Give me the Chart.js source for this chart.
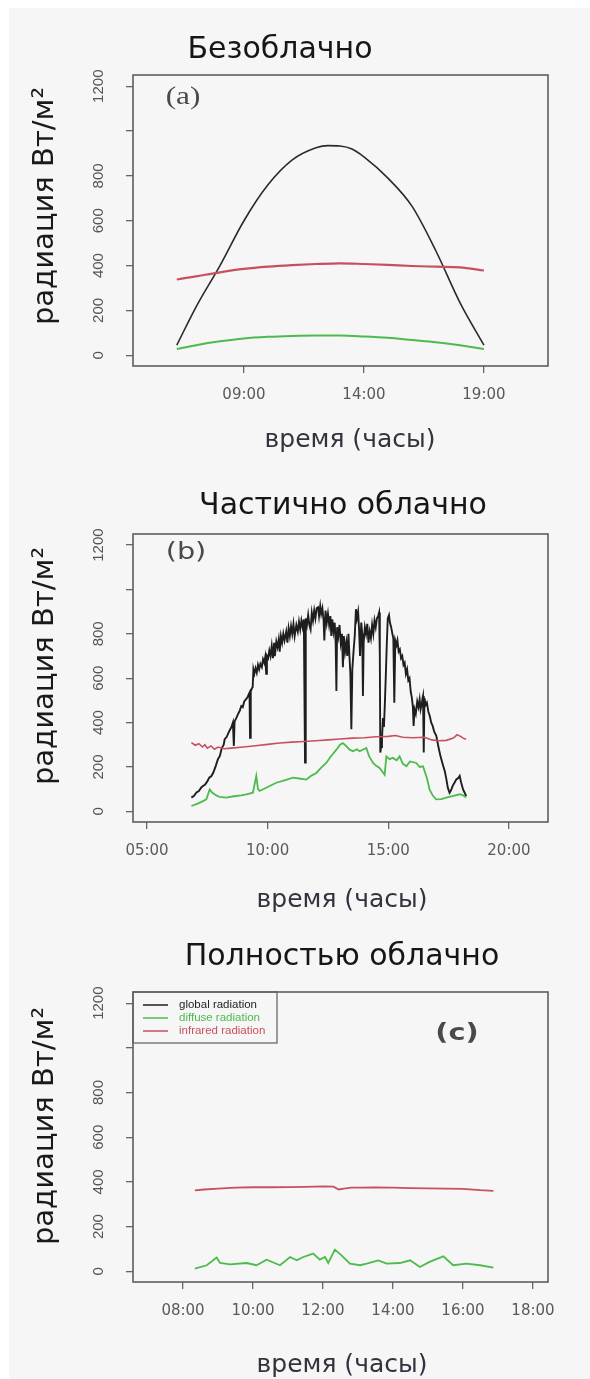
<!DOCTYPE html>
<html><head><meta charset="utf-8">
<script src="https://cdn.jsdelivr.net/npm/chart.js@4.4.1/dist/chart.umd.min.js"></script>
<style>
html,body{margin:0;padding:0;background:#fff;width:590px;height:1379px;overflow:hidden}
#bg{position:absolute;left:9px;top:8px;width:581px;height:1371px;background:#f6f6f6}
canvas{position:absolute;left:0}
</style></head><body>
<div id="bg"></div>
<canvas id="ca" width="590" height="460" style="top:0px"></canvas>
<canvas id="cb" width="590" height="460" style="top:460px"></canvas>
<canvas id="cc" width="590" height="459" style="top:920px"></canvas>
<script>
// ---------- DATA ----------
const panelTitles = ['Безоблачно', 'Частично облачно', 'Полностью облачно'];
const panelLetters = ['(a)', '(b)', '(c)'];
const yAxisTitle = 'радиация Вт/м²';
const xAxisTitle = 'время (часы)';
const seriesNames = ['global radiation', 'diffuse radiation', 'infrared radiation'];

const yTicks = [0, 200, 400, 600, 800, 1000, 1200];
const yTickLabels = ['0', '200', '400', '600', '800', '', '1200'];
const xTicksA = [9, 14, 19];
const xTicksB = [5, 10, 15, 20];
const xTicksC = [8, 10, 12, 14, 16, 18];

// (a) clear sky
const clearGlobalT = [6.2, 7, 8, 9, 10, 11, 12, 12.5, 13, 13.5, 14, 15, 16, 17, 18, 19];
const clearGlobalV = [45, 215, 400, 600, 760, 870, 925, 935, 933, 920, 885, 790, 665, 465, 235, 45];
const clearDiffuseT = [6.2, 7, 8, 9, 10, 11, 12, 13, 14, 15, 16, 17, 18, 19];
const clearDiffuseV = [28, 45, 62, 75, 82, 86, 88, 88, 84, 78, 68, 58, 45, 28];
const clearInfraT = [6.2, 7, 8, 9, 10, 11, 12, 13, 14, 15, 16, 17, 18, 19];
const clearInfraV = [338, 352, 370, 385, 395, 402, 407, 410, 407, 403, 398, 395, 392, 378];

// (b) partly cloudy — global radiation as [hour, W/m²]
const partlyGlobal = [
  [6.84,62],[6.95,70],[7.05,85],[7.15,92],[7.25,108],[7.32,114],[7.4,120],[7.5,135],[7.58,152],[7.67,159],
  [7.75,175],[7.85,205],[7.94,235],[8.02,250],[8.1,285],[8.18,300],[8.22,325],[8.3,335],[8.38,355],[8.45,370],
  [8.5,380],[8.56,400],[8.6,295],[8.63,405],[8.7,420],[8.78,440],[8.85,455],[8.91,475],[8.97,470],[9.03,495],
  [9.1,505],[9.17,515],[9.22,528],[9.25,535],[9.27,332],[9.3,540],[9.35,555],[9.38,560],[9.41,640],[9.45,620],
  [9.5,645],[9.55,625],[9.6,660],[9.65,640],[9.7,665],[9.76,650],[9.81,686],[9.86,670],[9.9,695],[9.94,620],
  [9.97,700],[10.02,690],[10.07,725],[10.12,700],[10.17,745],[10.22,690],[10.27,760],[10.3,700],[10.36,765],[10.41,740],
  [10.46,775],[10.5,720],[10.55,790],[10.6,760],[10.65,800],[10.7,770],[10.77,810],[10.82,760],[10.87,825],[10.92,790],
  [10.97,835],[11.02,800],[11.07,845],[11.12,790],[11.19,840],[11.25,810],[11.3,855],[11.35,820],[11.4,860],[11.45,830],
  [11.5,865],[11.55,220],[11.58,870],[11.63,840],[11.68,885],[11.73,840],[11.78,820],[11.83,895],[11.88,860],[11.93,905],
  [11.98,870],[12.03,915],[12.09,920],[12.13,880],[12.18,925],[12.22,890],[12.27,915],[12.32,860],[12.35,770],[12.4,905],
  [12.45,850],[12.5,890],[12.55,840],[12.6,880],[12.64,790],[12.68,865],[12.73,810],[12.78,850],[12.82,760],[12.85,543],
  [12.88,830],[12.93,790],[12.98,840],[13.03,760],[13.08,800],[13.12,650],[13.16,790],[13.21,720],[13.26,760],[13.3,700],
  [13.35,800],[13.39,700],[13.43,620],[13.47,370],[13.51,640],[13.56,720],[13.61,790],[13.66,911],[13.7,870],[13.75,900],
  [13.79,820],[13.83,700],[13.88,851],[13.92,800],[13.95,520],[13.98,760],[14.03,830],[14.08,800],[14.13,845],[14.18,760],
  [14.23,810],[14.28,780],[14.33,840],[14.38,800],[14.43,860],[14.48,830],[14.53,870],[14.58,880],[14.62,896],[14.65,700],
  [14.67,265],[14.7,290],[14.74,330],[14.78,420],[14.82,380],[14.86,490],[14.9,620],[14.94,760],[14.98,870],[15.03,885],
  [15.07,850],[15.12,830],[15.17,800],[15.21,780],[15.25,490],[15.29,770],[15.34,750],[15.38,770],[15.43,720],[15.48,730],
  [15.53,690],[15.58,700],[15.63,660],[15.68,670],[15.73,620],[15.78,640],[15.83,590],[15.88,600],[15.93,540],[15.98,510],
  [16.02,470],[16.05,385],[16.09,460],[16.14,440],[16.2,495],[16.25,470],[16.3,505],[16.34,460],[16.38,480],[16.42,510],
  [16.44,520],[16.47,265],[16.5,510],[16.55,480],[16.6,490],[16.66,450],[16.72,430],[16.78,400],[16.84,385],[16.9,360],
  [16.99,340],[17.08,290],[17.16,250],[17.25,215],[17.34,182],[17.4,150],[17.47,105],[17.54,84],[17.6,95],[17.67,115],
  [17.75,130],[17.82,144],[17.9,150],[17.96,160],[18.02,130],[18.1,99],[18.16,85],[18.23,69]
];
const partlyDiffuseT = [6.84, 7.1, 7.3, 7.46, 7.6, 7.7, 7.87, 8.0, 8.29, 8.6, 8.9, 9.12, 9.39, 9.53, 9.6, 9.67, 10.0, 10.36, 10.7, 11.05, 11.3, 11.6, 11.8, 12.02, 12.2, 12.43, 12.6, 12.85, 13.0, 13.12, 13.25, 13.4, 13.54, 13.7, 13.81, 14.09, 14.2, 14.37, 14.5, 14.64, 14.85, 14.92, 15.05, 15.19, 15.35, 15.47, 15.6, 15.75, 15.9, 16.16, 16.3, 16.44, 16.6, 16.71, 16.85, 16.99, 17.2, 17.4, 17.7, 17.96, 18.1, 18.23];
const partlyDiffuseV = [24, 35, 45, 54, 99, 85, 72, 65, 62, 68, 72, 77, 84, 160, 100, 92, 110, 129, 140, 152, 148, 143, 160, 173, 195, 218, 245, 278, 300, 308, 295, 278, 271, 280, 271, 286, 250, 218, 205, 196, 165, 248, 235, 241, 230, 248, 215, 203, 225, 218, 200, 203, 150, 99, 70, 54, 55, 62, 70, 77, 72, 62];
const partlyInfraT = [6.84, 7.0, 7.15, 7.3, 7.4, 7.5, 7.65, 7.8, 7.95, 8.2, 8.5, 9, 9.5, 10, 10.5, 11, 11.5, 12, 12.5, 13, 13.5, 14, 14.5, 15, 15.3, 15.6, 16, 16.5, 16.8, 17.1, 17.4, 17.7, 17.85, 18.0, 18.1, 18.23];
const partlyInfraV = [310, 298, 305, 290, 300, 285, 295, 280, 290, 282, 285, 290, 296, 302, 308, 312, 315, 318, 322, 326, 330, 332, 336, 338, 342, 334, 332, 334, 322, 318, 320, 330, 345, 338, 330, 325];

// (c) overcast
const fullDiffuseT = [8.34, 8.68, 8.96, 9.06, 9.34, 9.82, 10.1, 10.39, 10.77, 11.06, 11.25, 11.44, 11.72, 11.91, 12.06, 12.15, 12.34, 12.53, 12.77, 13.06, 13.25, 13.58, 13.82, 14.2, 14.49, 14.77, 15.06, 15.44, 15.72, 16.1, 16.49, 16.87];
const fullDiffuseV = [12, 27, 61, 37, 31, 37, 27, 52, 27, 64, 49, 64, 79, 52, 64, 37, 97, 71, 34, 27, 34, 49, 34, 37, 49, 19, 43, 67, 27, 34, 27, 16];
const fullInfraT = [8.34, 8.6, 9.0, 9.5, 10, 10.5, 11, 11.5, 12, 12.3, 12.45, 12.6, 12.8, 13, 13.5, 14, 14.5, 15, 15.5, 16, 16.5, 16.87];
const fullInfraV = [362, 366, 370, 374, 376, 376, 377, 378, 380, 379, 366, 370, 374, 374, 375, 374, 372, 371, 370, 369, 363, 360];

// ---------- STYLE ----------
const C_GLOBAL = '#1e1e1e', C_DIFF = '#4cbb4c', C_INFRA = '#c8505c';
const pts = (t, v) => t.map((x, i) => ({x: x, y: v[i]}));
const pairPts = p => p.map(d => ({x: d[0], y: d[1]}));
const hh = v => (v < 10 ? '0' : '') + v + ':00';

const decor = {
  id: 'decor',
  afterDraw(chart, args, o) {
    const ctx = chart.ctx, ca = chart.chartArea, ys = chart.scales.y;
    ctx.save();
    ctx.strokeStyle = '#5e5e5e'; ctx.lineWidth = 1.6;
    ctx.strokeRect(ca.left, ca.top, ca.right - ca.left, ca.bottom - ca.top);
    ctx.fillStyle = '#555'; ctx.font = '15px "Liberation Sans"';
    ctx.textAlign = 'center'; ctx.textBaseline = 'middle';
    yTicks.forEach((v, i) => {
      const lab = yTickLabels[i]; if (!lab) return;
      ctx.save(); ctx.translate(99, ys.getPixelForValue(v)); ctx.rotate(-Math.PI / 2);
      ctx.fillText(lab, 0, 0); ctx.restore();
    });
    ctx.fillStyle = '#161616'; ctx.font = '30px "DejaVu Sans"';
    ctx.fillText(o.title, o.titleX, o.titleY);
    ctx.save(); ctx.translate(45, 206); ctx.rotate(-Math.PI / 2);
    ctx.fillStyle = '#1a1a1a'; ctx.font = '29px "DejaVu Sans"';
    ctx.fillText(yAxisTitle, 0, 0); ctx.restore();
    ctx.fillStyle = '#33333f'; ctx.font = '25px "DejaVu Sans"';
    ctx.fillText(xAxisTitle, o.xtX, o.xtY);
    ctx.save(); ctx.translate(o.letX, o.letY); ctx.scale(1.25, 1);
    ctx.fillStyle = '#4a4a4a'; ctx.font = o.letFont;
    ctx.fillText(o.letter, 0, 0); ctx.restore();
    if (o.legend) {
      const lx = ca.left, ly = ca.top, lw = 144, lh = 51;
      ctx.strokeStyle = '#5e5e5e'; ctx.lineWidth = 1.2; ctx.strokeRect(lx, ly, lw, lh);
      const cols = [C_GLOBAL, C_DIFF, C_INFRA];
      ctx.font = '11.5px "Liberation Sans"'; ctx.textAlign = 'left';
      seriesNames.forEach((n, i) => {
        const yy = ly + 13 + i * 13;
        ctx.strokeStyle = cols[i]; ctx.lineWidth = 1.5;
        ctx.beginPath(); ctx.moveTo(lx + 10, yy); ctx.lineTo(lx + 35, yy); ctx.stroke();
        ctx.fillStyle = cols[i]; ctx.fillText(n, lx + 46, yy);
      });
    }
    ctx.restore();
  }
};

function makeChart(id, H, top, bottom, xmin, xmax, xticks, datasets, deco, smooth) {
  return new Chart(document.getElementById(id), {
    type: 'line',
    data: {datasets: datasets},
    plugins: [decor],
    options: {
      responsive: false, animation: false, devicePixelRatio: 1,
      layout: {padding: {left: 0, right: 42, top: top, bottom: 0}},
      elements: {point: {radius: 0}, line: {tension: 0, cubicInterpolationMode: smooth ? 'monotone' : 'default'}},
      plugins: {legend: {display: false}, tooltip: {enabled: false}, title: {display: false}, decor: deco},
      scales: {
        x: {
          type: 'linear', min: xmin, max: xmax,
          afterBuildTicks: s => { s.ticks = xticks.map(v => ({value: v})); },
          afterFit: s => { s.height = H - bottom; s.paddingLeft = 0; s.paddingRight = 0; },
          grid: {drawOnChartArea: false, drawTicks: true, tickLength: 7, color: '#666', tickColor: '#666', lineWidth: 1.3},
          border: {display: false},
          ticks: {autoSkip: false, maxRotation: 0, minRotation: 0, padding: 13, color: '#5a5a5a',
                  font: {family: 'DejaVu Sans', size: 15}, callback: v => hh(v)}
        },
        y: {
          type: 'linear', min: -48, max: 1250,
          afterBuildTicks: s => { s.ticks = yTicks.map(v => ({value: v})); },
          afterFit: s => { s.width = 133; s.paddingTop = 0; s.paddingBottom = 0; },
          grid: {drawOnChartArea: false, drawTicks: true, tickLength: 7, color: '#666', tickColor: '#666', lineWidth: 1.3},
          border: {display: false},
          ticks: {display: false}
        }
      }
    }
  });
}

function ds(data, c, w) {
  return {data: data, borderColor: c, borderWidth: w, pointRadius: 0, fill: false};
}

makeChart('ca', 460, 75, 366, 4.375, 21.67, xTicksA, [
  ds(pts(clearInfraT, clearInfraV), C_INFRA, 2.2),
  ds(pts(clearDiffuseT, clearDiffuseV), C_DIFF, 2),
  ds(pts(clearGlobalT, clearGlobalV), '#2a2a2a', 1.6)
], {title: panelTitles[0], titleX: 280, titleY: 50, xtX: 350, xtY: 440,
    letter: panelLetters[0], letX: 183, letY: 97, letFont: '25px "Liberation Serif"'}, true);

makeChart('cb', 460, 74, 362, 4.42, 21.62, xTicksB, [
  ds(pts(partlyInfraT, partlyInfraV), C_INFRA, 1.6),
  ds(pts(partlyDiffuseT, partlyDiffuseV), C_DIFF, 1.8),
  ds(pairPts(partlyGlobal), C_GLOBAL, 1.9)
], {title: panelTitles[1], titleX: 343, titleY: 46, xtX: 342, xtY: 440,
    letter: panelLetters[1], letX: 186, letY: 93, letFont: '23px "DejaVu Sans"'}, false);

makeChart('cc', 459, 72, 362, 6.571, 18.43, xTicksC, [
  ds(pts(fullInfraT, fullInfraV), C_INFRA, 1.8),
  ds(pts(fullDiffuseT, fullDiffuseV), C_DIFF, 1.8)
], {title: panelTitles[2], titleX: 342, titleY: 37, xtX: 342, xtY: 445,
    letter: panelLetters[2], letX: 457, letY: 114, letFont: 'bold 23px "DejaVu Sans"', legend: true}, false);
</script>
</body></html>
